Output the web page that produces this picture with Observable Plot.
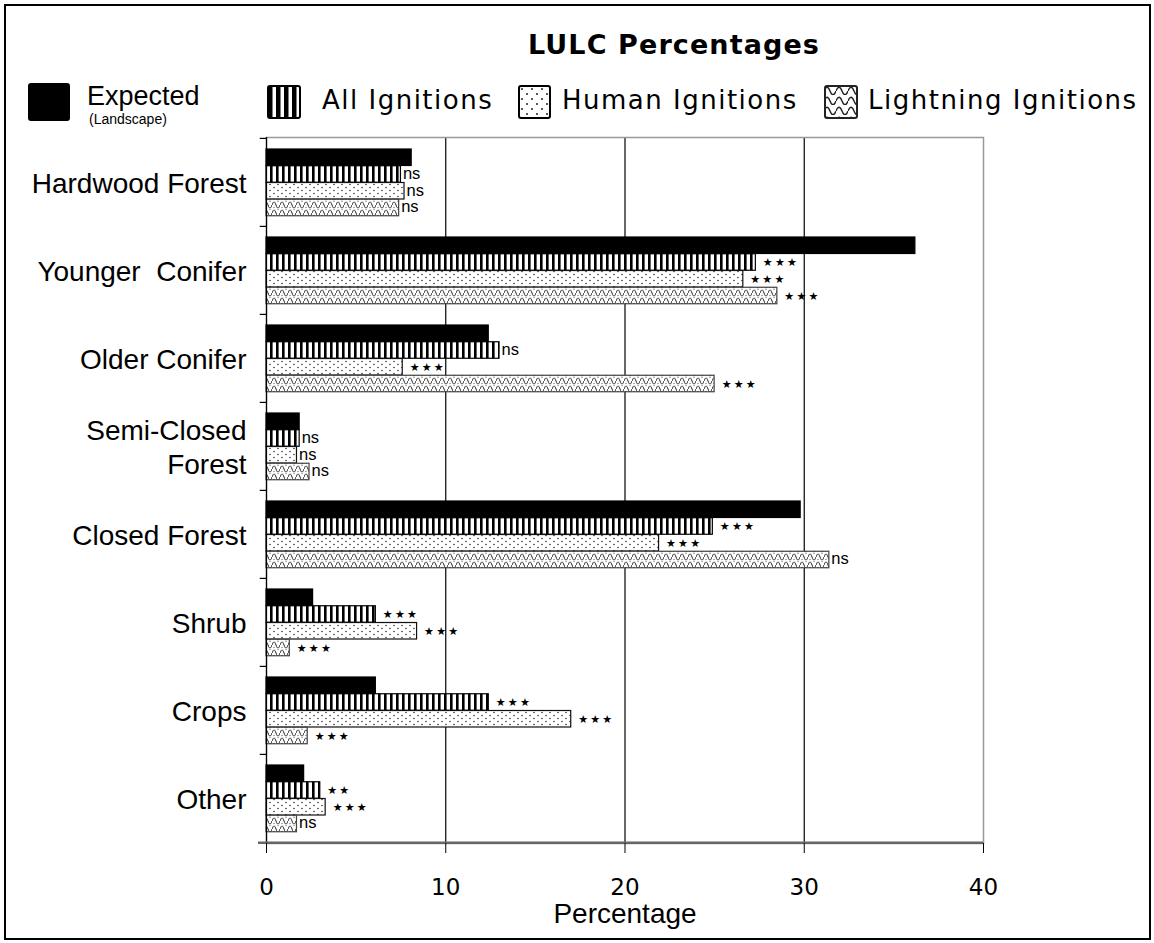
<!DOCTYPE html>
<html><head><meta charset="utf-8">
<script src="https://cdn.jsdelivr.net/npm/d3@7"></script>
<script src="https://cdn.jsdelivr.net/npm/@observablehq/plot@0.6"></script>
<style>
body{margin:0;background:#fff;}
#wrap{position:relative;width:1154px;height:943px;overflow:hidden;background:#fff;}
#border{position:absolute;left:4px;top:4px;width:1143px;height:932px;border:2px solid #000;pointer-events:none;z-index:5}
#header{position:relative;height:120px}
.t{position:absolute;white-space:nowrap;color:#000;line-height:1}
.ic{position:absolute}
</style></head><body>
<svg width="0" height="0" style="position:absolute">
<defs>
<pattern id="pStripes" width="6" height="10" patternUnits="userSpaceOnUse"><rect width="6" height="10" fill="#fff"/><rect x="0" width="2.6" height="10" fill="#000"/></pattern>
<pattern id="pDots" width="8" height="6" patternUnits="userSpaceOnUse"><rect width="8" height="6" fill="#fff"/><circle cx="2" cy="1.5" r="0.75" fill="#222"/><circle cx="6" cy="4.5" r="0.75" fill="#222"/></pattern>
<pattern id="pWave" width="8" height="8" patternUnits="userSpaceOnUse"><rect width="8" height="8" fill="#fff"/><path d="M0,5 C1.3,1 2.7,1 4,5 S6.7,9 8,5" fill="none" stroke="#222" stroke-width="1"/><circle cx="2" cy="7.3" r="0.6" fill="#444"/><circle cx="6" cy="1.2" r="0.6" fill="#444"/></pattern>
<pattern id="lStripes" width="8" height="10" patternUnits="userSpaceOnUse" x="1"><rect width="8" height="10" fill="#fff"/><rect x="0" width="4.5" height="10" fill="#000"/></pattern>
<pattern id="lDots" width="10" height="10" patternUnits="userSpaceOnUse" x="1" y="1"><rect width="10" height="10" fill="#fff"/><circle cx="3" cy="3" r="1" fill="#222"/><circle cx="8" cy="8" r="1" fill="#222"/></pattern>
<pattern id="lWave" width="12" height="10" patternUnits="userSpaceOnUse"><rect width="12" height="10" fill="#fff"/><path d="M0,6 C2,1 4,1 6,6 S10,11 12,6" fill="none" stroke="#222" stroke-width="1.4"/></pattern>
</defs></svg>
<div id="wrap">
<div id="border"></div>
<div id="header"></div>
<div id="chart"></div>
</div>
<script>
// ---- data ----
const categories = ["Hardwood Forest", "Younger  Conifer", "Older Conifer", "Semi-Closed\nForest", "Closed Forest", "Shrub", "Crops", "Other"];
const seriesNames = ["Expected", "All Ignitions", "Human Ignitions", "Lightning Ignitions"];
const expectedVals = [8.1, 36.2, 12.4, 1.85, 29.8, 2.6, 6.1, 2.1];
const allVals      = [7.5, 27.3, 13.0, 1.85, 24.9, 6.1, 12.4, 3.0];
const humanVals    = [7.7, 26.6, 7.6, 1.7, 21.9, 8.4, 17.0, 3.3];
const lightVals    = [7.4, 28.5, 25.0, 2.4, 31.4, 1.3, 2.3, 1.7];
const allSig   = ["ns", "***", "ns", "ns", "***", "***", "***", "**"];
const humanSig = ["ns", "***", "***", "ns", "***", "***", "***", "***"];
const lightSig = ["ns", "***", "***", "ns", "ns", "***", "***", "ns"];
const xTicks = [0, 10, 20, 30, 40];
const titleText = "LULC Percentages";
const xLabel = "Percentage";
const expectedSub = "(Landscape)";

// ---- styling ----
const fills = ["#000", "url(#pStripes)", "url(#pDots)", "url(#pWave)"];
const legendFills = ["#000", "url(#lStripes)", "url(#lDots)", "url(#lWave)"];
const strokes = ["#000", "#000", "#111", "#444"];
const valueSets = [expectedVals, allVals, humanVals, lightVals];
const sigSets = [null, allSig, humanSig, lightSig];

const data = [];
seriesNames.forEach((s, si) => categories.forEach((c, ci) => {
  data.push({series: s, si, category: c, value: valueSets[si][ci], sig: sigSets[si] ? sigSets[si][ci] : null});
}));

// ---- header (title + legend) ----
const header = document.getElementById("header");
function addText(txt, left, top, css) {
  const d = document.createElement("div");
  d.className = "t"; d.textContent = txt;
  d.style.left = left + "px"; d.style.top = top + "px";
  Object.assign(d.style, css);
  header.appendChild(d);
  return d;
}
function addIcon(fill, left, top, w, h, stroke) {
  const ns = "http://www.w3.org/2000/svg";
  const s = document.createElementNS(ns, "svg");
  s.setAttribute("class", "ic");
  s.setAttribute("width", w); s.setAttribute("height", h);
  s.style.left = left + "px"; s.style.top = top + "px";
  const r = document.createElementNS(ns, "rect");
  r.setAttribute("x", 1); r.setAttribute("y", 1);
  r.setAttribute("width", w - 2); r.setAttribute("height", h - 2);
  r.setAttribute("rx", 2);
  r.setAttribute("fill", fill); r.setAttribute("stroke", stroke);
  r.setAttribute("stroke-width", 2);
  s.appendChild(r);
  header.appendChild(s);
}
addText(titleText, 528, 31, {fontFamily: "DejaVu Sans", fontWeight: "bold", fontSize: "27px", letterSpacing: "1.1px"});

addIcon(legendFills[0], 28, 83, 42, 38, strokes[0]);
addText(seriesNames[0], 87, 83, {fontFamily: "Liberation Sans", fontSize: "27px"});
addText(expectedSub, 89, 112, {fontFamily: "Liberation Sans", fontSize: "14px"});
addIcon(legendFills[1], 267, 85, 34, 34, "#000");
addText(seriesNames[1], 322, 87, {fontFamily: "DejaVu Sans", fontSize: "26px", letterSpacing: "1.5px"});
addIcon(legendFills[2], 518, 85, 33, 34, "#000");
addText(seriesNames[2], 562, 87, {fontFamily: "DejaVu Sans", fontSize: "26px", letterSpacing: "1.5px"});
addIcon(legendFills[3], 824, 85, 34, 34, "#222");
addText(seriesNames[3], 868, 87, {fontFamily: "DejaVu Sans", fontSize: "26px", letterSpacing: "1.5px"});

// ---- chart ----
const H = 823, mTop = 17, mBottom = 100;
const band = (H - mTop - mBottom) / categories.length;
const padTop = 11, barH = 16.75;

const marks = [];
marks.push(Plot.ruleX([10, 20, 30], {stroke: "#000", strokeWidth: 1.2}));
marks.push(Plot.frame({stroke: "#999", strokeWidth: 1.5}));
seriesNames.forEach((s, i) => {
  const top = padTop + i * barH;
  marks.push(Plot.barX(data.filter(d => d.si === i), {
    y: "category", x: "value",
    fill: fills[i], stroke: strokes[i], strokeWidth: 1.2,
    insetTop: top, insetBottom: band - top - barH
  }));
  if (i > 0) {
    const dy = top + barH / 2 - band / 2;
    marks.push(Plot.text(data.filter(d => d.si === i && d.sig === "ns"), {
      y: "category", x: "value", text: "sig", dx: 2, dy: dy - 1,
      textAnchor: "start", fontSize: 16.5, fontFamily: "Liberation Sans"
    }));
    marks.push(Plot.text(data.filter(d => d.si === i && d.sig !== "ns"), {
      y: "category", x: "value", text: d => d.sig.replace(/\*/g, "★").split("").join("\u2009"),
      dx: 7, dy, textAnchor: "start", fontSize: 11, fontFamily: "DejaVu Sans"
    }));
  }
});
// left axis line and category boundary ticks
marks.push(Plot.ruleX([0], {stroke: "#000", strokeWidth: 1.2}));
marks.push(Plot.ruleY(categories, {y: d => d, x1: -0.35, x2: 0, dy: -band / 2, stroke: "#000", strokeWidth: 1.2}));
marks.push(Plot.ruleY([categories[categories.length - 1]], {y: d => d, x1: -0.45, x2: 40, dy: band / 2, stroke: "#666", strokeWidth: 2.5}));
// category labels
marks.push(Plot.text(categories, {y: d => d, text: d => d, frameAnchor: "left", textAnchor: "end", dx: -20, fontSize: 28, lineHeight: 1.2, fontFamily: "Liberation Sans"}));
// x axis
marks.push(Plot.axisX({ticks: xTicks, tickSize: 10, tickPadding: 25, fontSize: 23, fontFamily: "DejaVu Sans", label: null, stroke: "#000"}));
marks.push(Plot.text([xLabel], {frameAnchor: "bottom", text: d => d, lineAnchor: "top", dy: 60, fontSize: 28, fontFamily: "Liberation Sans"}));

const chart = Plot.plot({
  width: 1154, height: H,
  marginTop: mTop, marginBottom: mBottom, marginLeft: 266, marginRight: 171,
  x: {domain: [0, 40]},
  y: {domain: categories, padding: 0, axis: null},
  style: {background: "transparent", color: "#000", overflow: "visible"},
  marks
});
document.getElementById("chart").appendChild(chart);
</script>
</body></html>
